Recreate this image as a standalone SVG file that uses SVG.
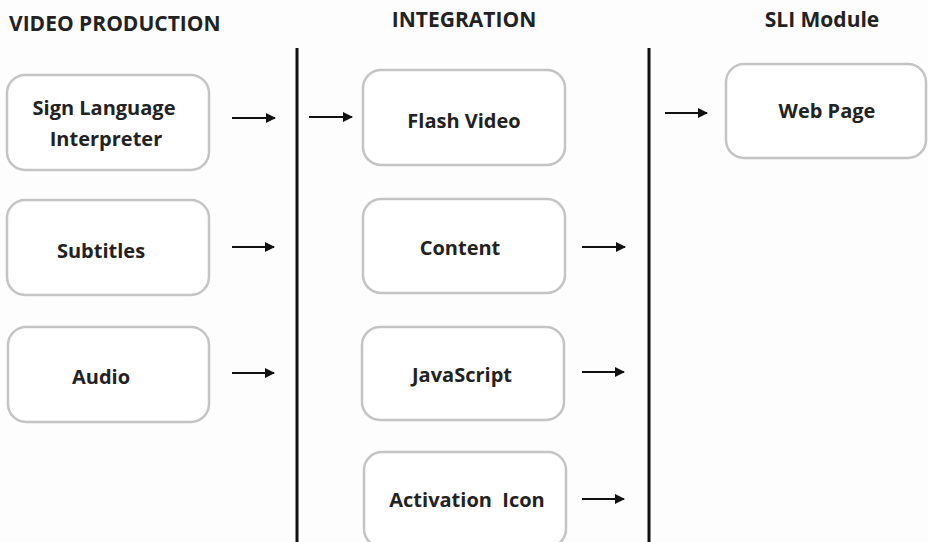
<svg xmlns="http://www.w3.org/2000/svg" width="928" height="542" viewBox="0 0 928 542">
<style>
.box{fill:#fff;stroke:#c4c4c4;stroke-width:2.5}
.lbl{font-family:"Open Sans","Liberation Sans",sans-serif;font-weight:bold;font-size:20px;fill:#222;text-anchor:middle}
.ttl{font-family:"Open Sans","Liberation Sans",sans-serif;font-weight:bold;font-size:21px;fill:#222}
.arr{stroke:#111;stroke-width:2;fill:none;marker-end:url(#ah)}
.div{stroke:#111;stroke-width:3}
</style>
<defs>
<marker id="ah" viewBox="0 0 10 10" refX="9" refY="5" markerWidth="5" markerHeight="5" orient="auto" markerUnits="strokeWidth">
<path d="M0,0 L10,5 L0,10 z" fill="#111"/>
</marker>
</defs>
<rect width="928" height="542" fill="#fdfdfd"/>
<g id="titles">
<text class="ttl" x="9" y="31">VIDEO PRODUCTION</text>
<text class="ttl" x="464" y="27" text-anchor="middle">INTEGRATION</text>
<text class="ttl" x="822" y="27" text-anchor="middle">SLI Module</text>
</g>
<g id="sign-language">
<rect class="box" x="7" y="75" width="202" height="95" rx="18"/>
<text class="lbl" x="104" y="115">Sign Language</text>
<text class="lbl" x="106" y="146">Interpreter</text>
</g>
<g id="subtitles">
<rect class="box" x="7" y="200" width="202" height="95" rx="18"/>
<text class="lbl" x="101" y="258">Subtitles</text>
</g>
<g id="audio">
<rect class="box" x="8" y="327" width="201" height="95" rx="18"/>
<text class="lbl" x="101" y="384">Audio</text>
</g>
<g id="flash-video">
<rect class="box" x="363" y="70" width="202" height="95" rx="18"/>
<text class="lbl" x="464" y="128">Flash Video</text>
</g>
<g id="content">
<rect class="box" x="363" y="199" width="202" height="94" rx="18"/>
<text class="lbl" x="460" y="255">Content</text>
</g>
<g id="javascript">
<rect class="box" x="362" y="327" width="202" height="93" rx="18"/>
<text class="lbl" x="462" y="382">JavaScript</text>
</g>
<g id="activation-icon">
<rect class="box" x="364" y="452" width="202" height="95" rx="18"/>
<text class="lbl" x="467" y="507" xml:space="preserve">Activation  Icon</text>
</g>
<g id="web-page">
<rect class="box" x="726" y="64" width="200" height="94" rx="18"/>
<text class="lbl" x="827" y="118">Web Page</text>
</g>
<g id="connectors">
<line class="div" x1="297" y1="48" x2="297" y2="542"/>
<line class="div" x1="649" y1="48" x2="649" y2="542"/>
<line class="arr" x1="232" y1="118" x2="275" y2="118"/>
<line class="arr" x1="232" y1="247" x2="274" y2="247"/>
<line class="arr" x1="232" y1="373" x2="274" y2="373"/>
<line class="arr" x1="309" y1="117" x2="352" y2="117"/>
<line class="arr" x1="582" y1="247" x2="625" y2="247"/>
<line class="arr" x1="582" y1="372" x2="624" y2="372"/>
<line class="arr" x1="582" y1="499" x2="624" y2="499"/>
<line class="arr" x1="665" y1="113" x2="707" y2="113"/>
</g>
</svg>
